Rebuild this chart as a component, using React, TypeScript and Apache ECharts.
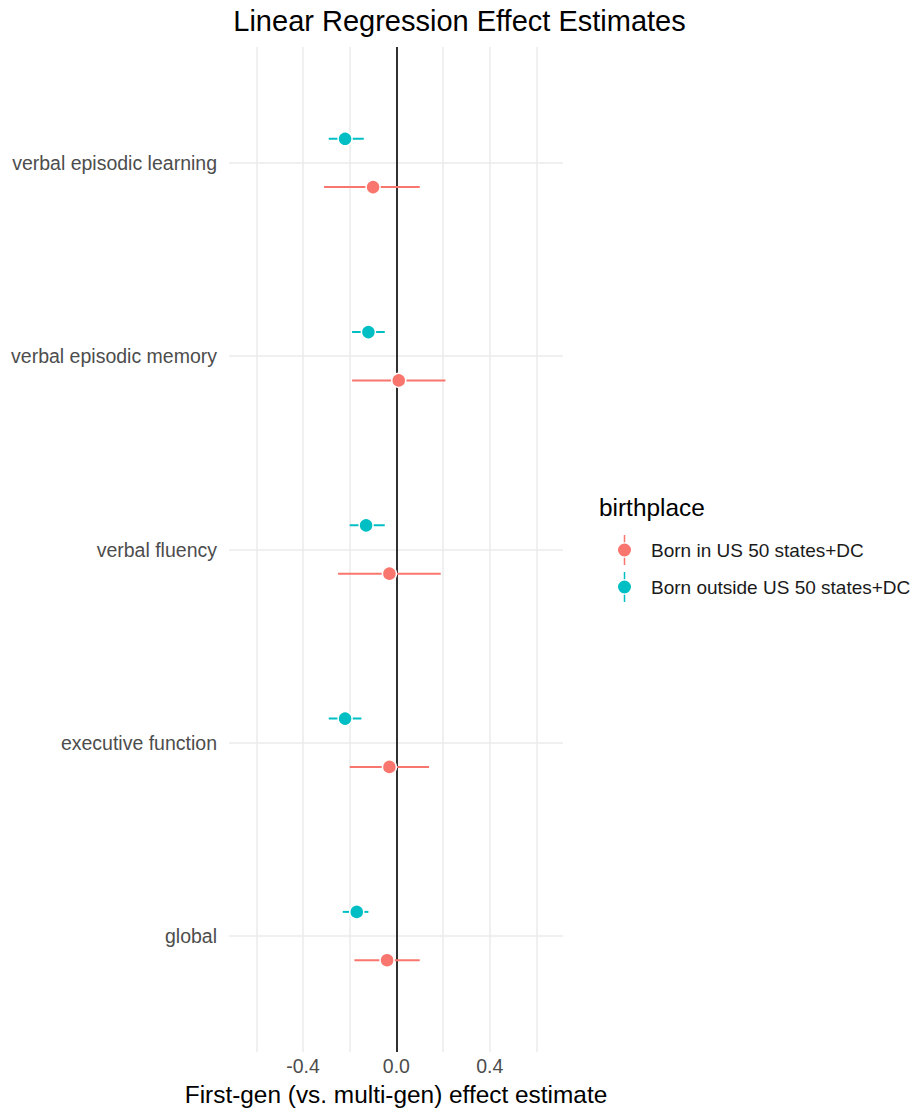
import React, { useEffect, useRef } from "react";
import * as echarts from "echarts";

const categories = [
  "verbal episodic learning",
  "verbal episodic memory",
  "verbal fluency",
  "executive function",
  "global",
];
const groupNames = ["Born in US 50 states+DC", "Born outside US 50 states+DC"];
const groupColors = ["#F8766D", "#00BFC4"];

const usEst = [-0.1, 0.01, -0.03, -0.03, -0.04];
const usLow = [-0.31, -0.19, -0.25, -0.2, -0.18];
const usHigh = [0.1, 0.21, 0.19, 0.14, 0.1];

const outEst = [-0.22, -0.12, -0.13, -0.22, -0.17];
const outLow = [-0.29, -0.19, -0.2, -0.29, -0.23];
const outHigh = [-0.14, -0.05, -0.05, -0.15, -0.12];

const xTickLabels = [-0.4, 0, 0.4];
const xGridValues = [-0.6, -0.4, -0.2, 0, 0.2, 0.4, 0.6];
const catPositions = [1, 2, 3, 4, 5];

const DODGE = 0.125;
const FONT = "'Liberation Sans', Arial, Helvetica, sans-serif";

function buildData(est: number[], lo: number[], hi: number[], offset: number) {
  return est.map((e, i) => [e, lo[i], hi[i], catPositions[i] + offset]);
}

export default function App() {
  const ref = useRef<HTMLDivElement>(null);

  useEffect(() => {
    if (!ref.current) return;
    const chart = echarts.init(ref.current, null, { renderer: "svg" });

    const makeSeries = (name: string, color: string, data: number[][]) => ({
      name,
      type: "custom",
      z: 5,
      itemStyle: { color },
      encode: { x: [0, 1, 2], y: 3 },
      data,
      renderItem: (params: any, api: any) => {
        const y = api.value(3);
        const pLo = api.coord([api.value(1), y]);
        const pHi = api.coord([api.value(2), y]);
        const pE = api.coord([api.value(0), y]);
        return {
          type: "group",
          children: [
            {
              type: "line",
              shape: { x1: pLo[0], y1: pLo[1], x2: pHi[0], y2: pHi[1] },
              style: { stroke: color, lineWidth: 2 },
            },
            {
              type: "circle",
              shape: { cx: pE[0], cy: pE[1], r: 7 },
              style: { fill: color, stroke: "#ffffff", lineWidth: 1.5 },
            },
          ],
        };
      },
    });

    const gridLineStyle = { color: "#ebebeb", width: 1.5, type: "solid" };

    const option: any = {
      animation: false,
      backgroundColor: "#ffffff",
      title: {
        text: "Linear Regression Effect Estimates",
        left: "center",
        top: 6,
        padding: 0,
        textStyle: { fontFamily: FONT, fontSize: 29, fontWeight: "normal", color: "#000000" },
      },
      grid: { left: 229, right: 356, top: 47, bottom: 57, containLabel: false },
      legend: {
        orient: "vertical",
        left: 613,
        top: 530,
        itemWidth: 13,
        itemHeight: 30,
        itemGap: 7,
        icon:
          "path://M0,15 A6.5,6.5 0 1,1 13,15 A6.5,6.5 0 1,1 0,15 Z M5.75,0 L7.25,0 L7.25,7.2 L5.75,7.2 Z M5.75,22.8 L7.25,22.8 L7.25,30 L5.75,30 Z",
        data: groupNames,
        selectedMode: false,
        textStyle: {
          fontFamily: FONT,
          fontSize: 19,
          color: "#1a1a1a",
          padding: [0, 0, 0, 15],
        },
      },
      graphic: [
        {
          type: "text",
          left: 599,
          top: 495,
          style: {
            text: "birthplace",
            font: `24.4px ${FONT}`,
            fill: "#000000",
          },
        },
      ],
      xAxis: {
        type: "value",
        min: -0.7175,
        max: 0.714,
        name: "First-gen (vs. multi-gen) effect estimate",
        nameLocation: "middle",
        nameGap: 30,
        nameTextStyle: { fontFamily: FONT, fontSize: 24.4, color: "#000000" },
        axisLine: { show: false },
        axisTick: { show: false },
        splitLine: { show: false },
        axisLabel: {
          customValues: xTickLabels,
          formatter: (v: number) => v.toFixed(1),
          fontFamily: FONT,
          fontSize: 19.5,
          color: "#4d4d4d",
          margin: 4,
        },
      },
      yAxis: {
        type: "value",
        inverse: true,
        min: 0.4,
        max: 5.6,
        axisLine: { show: false },
        axisTick: { show: false },
        splitLine: { show: false },
        axisLabel: {
          customValues: catPositions,
          formatter: (v: number) => categories[Math.round(v) - 1] ?? "",
          fontFamily: FONT,
          fontSize: 19.5,
          color: "#4d4d4d",
          margin: 12,
        },
      },
      series: [
        {
          name: "__grid",
          type: "scatter",
          data: [],
          z: 1,
          silent: true,
          markLine: {
            silent: true,
            symbol: ["none", "none"],
            label: { show: false },
            lineStyle: gridLineStyle,
            data: [
              ...xGridValues.map((v) => ({ xAxis: v })),
              ...catPositions.map((v) => ({ yAxis: v })),
            ],
          },
        },
        makeSeries(groupNames[0], groupColors[0], buildData(usEst, usLow, usHigh, DODGE)),
        makeSeries(groupNames[1], groupColors[1], buildData(outEst, outLow, outHigh, -DODGE)),
        {
          name: "__zero",
          type: "scatter",
          data: [],
          z: 10,
          silent: true,
          markLine: {
            silent: true,
            symbol: ["none", "none"],
            label: { show: false },
            lineStyle: { color: "#000000", width: 1.6, type: "solid" },
            data: [{ xAxis: 0 }],
          },
        },
      ],
    };

    chart.setOption(option);
    return () => chart.dispose();
  }, []);

  return (
    <div
      ref={ref}
      style={{ position: "absolute", left: 0, top: 0, width: 919, height: 1111 }}
    />
  );
}
